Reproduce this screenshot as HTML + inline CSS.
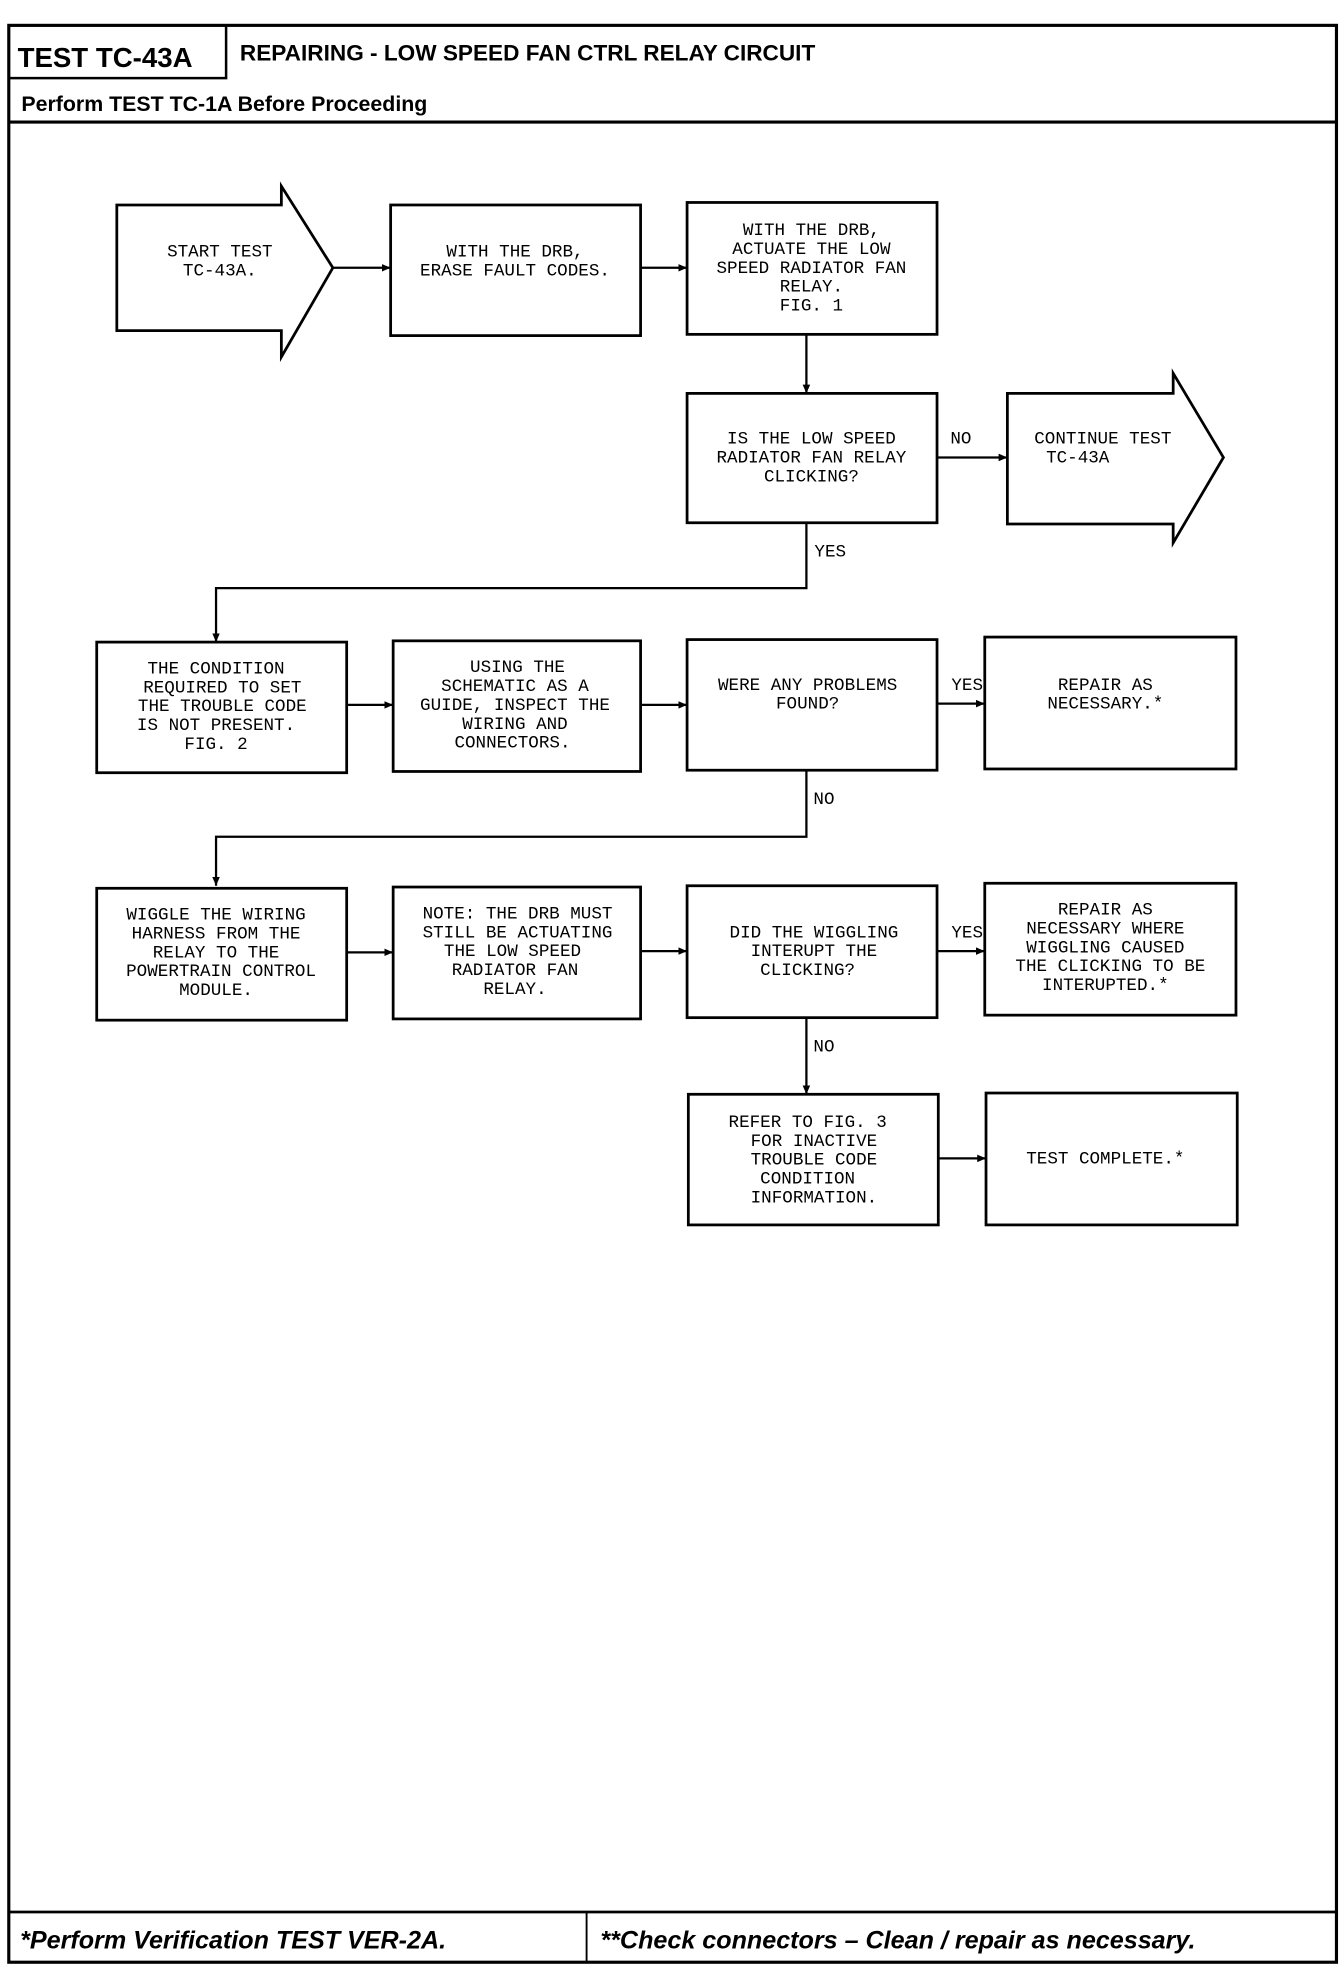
<!DOCTYPE html>
<html><head><meta charset="utf-8"><style>
html,body{margin:0;padding:0;background:#fff;}
svg{display:block;}
.b{fill:#fff;stroke:#000;stroke-width:2.2;}
.l{fill:none;stroke:#000;stroke-width:1.8;}
.t{font-family:"Liberation Mono",monospace;font-size:14px;fill:#000;text-anchor:middle;}
.h{font-family:"Liberation Sans",sans-serif;font-weight:bold;fill:#000;}
</style></head><body>
<svg width="1344" height="1970" viewBox="0 0 1070 1568" xmlns="http://www.w3.org/2000/svg">
<defs><marker id="a" markerWidth="8" markerHeight="8" refX="7" refY="4" orient="auto" markerUnits="userSpaceOnUse"><path d="M0,1 L7,4 L0,7 z" fill="#000"/></marker></defs>
<rect x="7" y="20" width="1057" height="1542" fill="none" stroke="#000" stroke-width="2.5"/>
<rect x="7" y="20" width="173" height="42" fill="none" stroke="#000" stroke-width="2"/>
<line x1="7" y1="62" x2="1064" y2="62" stroke="#000" stroke-width="0" />
<line x1="7" y1="97" x2="1064" y2="97" stroke="#000" stroke-width="2.5"/>
<text x="14" y="53" class="h" font-size="22">TEST TC-43A</text>
<text x="191" y="48" class="h" font-size="18">REPAIRING - LOW SPEED FAN CTRL RELAY CIRCUIT</text>
<text x="17" y="88" class="h" font-size="17">Perform TEST TC-1A Before Proceeding</text>
<line x1="7" y1="1522" x2="1064" y2="1522" stroke="#000" stroke-width="2.2"/>
<line x1="467" y1="1522" x2="467" y2="1562" stroke="#000" stroke-width="1.5"/>
<text x="16" y="1551" class="h" font-size="20" font-style="italic">*Perform Verification TEST VER-2A.</text>
<text x="478" y="1551" class="h" font-size="20" font-style="italic">**Check connectors – Clean / repair as necessary.</text>

<!-- start arrow -->
<path class="b" d="M93,163 H224 V148 L265,213 L224,284 V263 H93 Z"/>
<text class="t" x="175" y="204">START TEST</text><text class="t" x="175" y="219">TC-43A.</text>
<rect class="b" x="311" y="163" width="199" height="104"/>
<text class="t" x="410" y="204">WITH THE DRB,</text><text class="t" x="410" y="219">ERASE FAULT CODES.</text>
<rect class="b" x="547" y="161" width="199" height="105"/>
<text class="t" x="646" y="187">WITH THE DRB,</text><text class="t" x="646" y="202">ACTUATE THE LOW</text><text class="t" x="646" y="217">SPEED RADIATOR FAN</text><text class="t" x="646" y="232">RELAY.</text><text class="t" x="646" y="247">FIG. 1</text>
<line class="l" x1="265" y1="213" x2="311" y2="213" marker-end="url(#a)"/>
<line class="l" x1="510" y1="213" x2="547" y2="213" marker-end="url(#a)"/>
<line class="l" x1="642" y1="266" x2="642" y2="313" marker-end="url(#a)"/>

<rect class="b" x="547" y="313" width="199" height="103"/>
<text class="t" x="646" y="353">IS THE LOW SPEED</text><text class="t" x="646" y="368">RADIATOR FAN RELAY</text><text class="t" x="646" y="383">CLICKING?</text>
<path class="b" d="M802,313 H934 V297 L974,364 L934,432 V417 H802 Z"/>
<text class="t" x="878" y="353">CONTINUE TEST</text><text class="t" x="858" y="368">TC-43A</text>
<line class="l" x1="746" y1="364" x2="802" y2="364" marker-end="url(#a)"/>
<text class="t" x="765" y="353">NO</text>
<polyline class="l" points="642,416 642,468 172,468 172,511" marker-end="url(#a)"/>
<text class="t" x="661" y="443">YES</text>

<rect class="b" x="77" y="511" width="199" height="104"/>
<text class="t" x="172" y="536">THE CONDITION</text><text class="t" x="177" y="551">REQUIRED TO SET</text><text class="t" x="177" y="566">THE TROUBLE CODE</text><text class="t" x="172" y="581">IS NOT PRESENT.</text><text class="t" x="172" y="596">FIG. 2</text>
<rect class="b" x="313" y="510" width="197" height="104"/>
<text class="t" x="412" y="535">USING THE</text><text class="t" x="410" y="550">SCHEMATIC AS A</text><text class="t" x="410" y="565">GUIDE, INSPECT THE</text><text class="t" x="410" y="580">WIRING AND</text><text class="t" x="408" y="595">CONNECTORS.</text>
<rect class="b" x="547" y="509" width="199" height="104"/>
<text class="t" x="643" y="549">WERE ANY PROBLEMS</text><text class="t" x="643" y="564">FOUND?</text>
<rect class="b" x="784" y="507" width="200" height="105"/>
<text class="t" x="880" y="549">REPAIR AS</text><text class="t" x="880" y="564">NECESSARY.*</text>
<line class="l" x1="276" y1="561" x2="313" y2="561" marker-end="url(#a)"/>
<line class="l" x1="510" y1="561" x2="547" y2="561" marker-end="url(#a)"/>
<line class="l" x1="746" y1="560" x2="784" y2="560" marker-end="url(#a)"/>
<text class="t" x="770" y="549">YES</text>
<polyline class="l" points="642,613 642,666 172,666 172,705" marker-end="url(#a)"/>
<text class="t" x="656" y="640">NO</text>

<rect class="b" x="77" y="707" width="199" height="105"/>
<text class="t" x="172" y="732">WIGGLE THE WIRING</text><text class="t" x="172" y="747">HARNESS FROM THE</text><text class="t" x="172" y="762">RELAY TO THE</text><text class="t" x="176" y="777">POWERTRAIN CONTROL</text><text class="t" x="172" y="792">MODULE.</text>
<rect class="b" x="313" y="706" width="197" height="105"/>
<text class="t" x="412" y="731">NOTE: THE DRB MUST</text><text class="t" x="412" y="746">STILL BE ACTUATING</text><text class="t" x="408" y="761">THE LOW SPEED</text><text class="t" x="410" y="776">RADIATOR FAN</text><text class="t" x="410" y="791">RELAY.</text>
<rect class="b" x="547" y="705" width="199" height="105"/>
<text class="t" x="648" y="746">DID THE WIGGLING</text><text class="t" x="648" y="761">INTERUPT THE</text><text class="t" x="643" y="776">CLICKING?</text>
<rect class="b" x="784" y="703" width="200" height="105"/>
<text class="t" x="880" y="728">REPAIR AS</text><text class="t" x="880" y="743">NECESSARY WHERE</text><text class="t" x="880" y="758">WIGGLING CAUSED</text><text class="t" x="884" y="773">THE CLICKING TO BE</text><text class="t" x="880" y="788">INTERUPTED.*</text>
<line class="l" x1="276" y1="758" x2="313" y2="758" marker-end="url(#a)"/>
<line class="l" x1="510" y1="757" x2="547" y2="757" marker-end="url(#a)"/>
<line class="l" x1="746" y1="757" x2="784" y2="757" marker-end="url(#a)"/>
<text class="t" x="770" y="746">YES</text>
<line class="l" x1="642" y1="810" x2="642" y2="871" marker-end="url(#a)"/>
<text class="t" x="656" y="837">NO</text>

<rect class="b" x="548" y="871" width="199" height="104"/>
<text class="t" x="643" y="897">REFER TO FIG. 3</text><text class="t" x="648" y="912">FOR INACTIVE</text><text class="t" x="648" y="927">TROUBLE CODE</text><text class="t" x="643" y="942">CONDITION</text><text class="t" x="648" y="957">INFORMATION.</text>
<rect class="b" x="785" y="870" width="200" height="105"/>
<text class="t" x="880" y="926">TEST COMPLETE.*</text>
<line class="l" x1="747" y1="922" x2="785" y2="922" marker-end="url(#a)"/>
</svg>
</body></html>
